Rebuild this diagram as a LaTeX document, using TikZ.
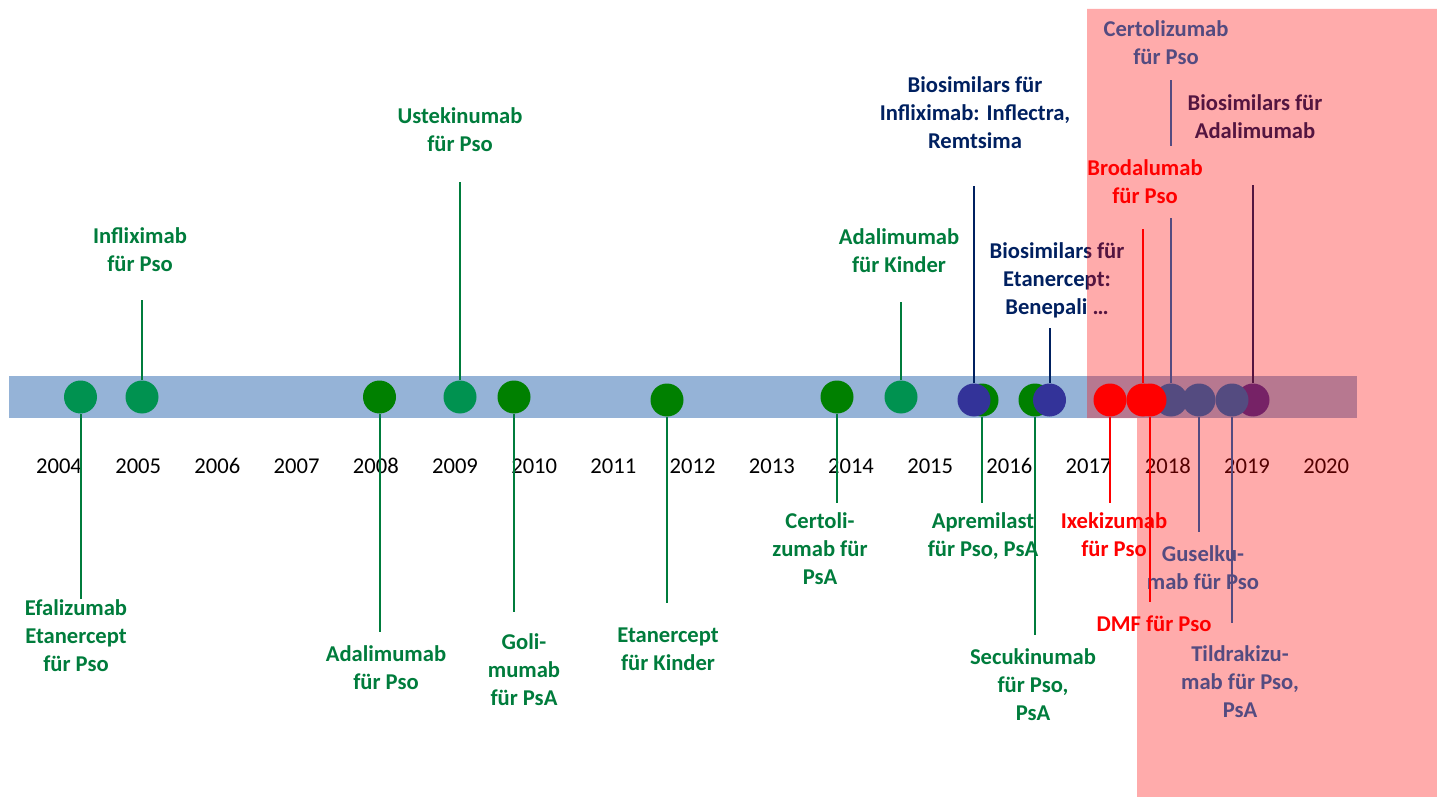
\documentclass[tikz,border=0pt]{standalone}
\usepackage{fontspec}
\setmainfont{Carlito}
\definecolor{barblue}{RGB}{149,179,215}
\definecolor{dotteal}{RGB}{0,146,80}
\definecolor{dotgreen}{RGB}{0,128,0}
\definecolor{txtgreen}{RGB}{0,124,60}
\definecolor{navy}{RGB}{0,32,96}
\definecolor{dotblue}{RGB}{51,51,153}
\definecolor{newblue}{RGB}{0,112,192}
\begin{document}
\begin{tikzpicture}[x=0.5pt,y=-0.5pt,
  evdot/.style={circle,inner sep=0pt,minimum size=16.5pt},
  lbl/.style={align=center,inner sep=0pt,font=\bfseries\fontsize{11.3}{14}\selectfont},
  yr/.style={font=\fontsize{11.3}{14}\selectfont},
  conn/.style={line width=1pt}]
\useasboundingbox (0,0) rectangle (1437,797);
\fill[barblue] (9,376) rectangle (1357,418);
% years
\node[yr] (y04) at (59,466) {2004};
\node[yr] (y05) at (138.2,466) {2005};
\node[yr] (y06) at (217.4,466) {2006};
\node[yr] (y07) at (296.6,466) {2007};
\node[yr] (y08) at (375.8,466) {2008};
\node[yr] (y09) at (455,466) {2009};
\node[yr] (y10) at (534.2,466) {2010};
\node[yr] (y11) at (613.4,466) {2011};
\node[yr] (y12) at (692.6,466) {2012};
\node[yr] (y13) at (771.8,466) {2013};
\node[yr] (y14) at (851,466) {2014};
\node[yr] (y15) at (930.2,466) {2015};
\node[yr] (y16) at (1009.4,466) {2016};
\node[yr] (y17) at (1088.6,466) {2017};
\node[yr] (y18) at (1167.8,466) {2018};
\node[yr] (y19) at (1247,466) {2019};
\node[yr] (y20) at (1326.2,466) {2020};
% dots
\node[evdot,fill=dotteal] (d04) at (80.5,397) {};
\node[evdot,fill=dotteal] (d05) at (142,397) {};
\node[evdot,fill=dotgreen] (d08) at (379.5,397) {};
\node[evdot,fill=dotteal] (d09) at (460,397) {};
\node[evdot,fill=dotgreen] (d10) at (514,397) {};
\node[evdot,fill=dotgreen] (d12) at (667,400) {};
\node[evdot,fill=dotgreen] (d14) at (837,397) {};
\node[evdot,fill=dotteal] (d15) at (901,397) {};
\node[evdot,fill=dotgreen] (dApr) at (982,400) {};
\node[evdot,fill=dotblue] (dBioInf) at (974,400) {};
\node[evdot,fill=dotgreen] (dSec) at (1035,400) {};
\node[evdot,fill=dotblue] (dBioEta) at (1049.5,400) {};
\node[evdot,fill=newblue] (dCer) at (1171,400) {};
\node[evdot,fill=newblue] (dGus) at (1199,400) {};
\node[evdot,fill=dotblue] (dBioAda) at (1253,400) {};
\node[evdot,fill=newblue] (dTil) at (1232,400) {};
\node[evdot,fill=red] (dIxe) at (1110,400) {};
\node[evdot,fill=red] (dBro) at (1143,400) {};
\node[evdot,fill=red] (dDMF) at (1150,400) {};
% labels below the bar
\node[lbl,txtgreen,anchor=north] (l04) at (76,599) {Efalizumab\\Etanercept\\für Pso};
\node[lbl,txtgreen,anchor=north] (l08) at (386,645) {Adalimumab\\für Pso};
\node[lbl,txtgreen,anchor=north] (l10) at (524,633) {Goli-\\mumab\\für PsA};
\node[lbl,txtgreen,anchor=north] (l12) at (668,627) {Etanercept\\für Kinder};
\node[lbl,txtgreen,anchor=north] (l14) at (820,512) {Certoli-\\zumab für\\PsA};
\node[lbl,txtgreen,anchor=north] (lApr) at (983,512) {Apremilast\\für Pso, PsA};
\node[lbl,txtgreen,anchor=north] (lSec) at (1033,648) {Secukinumab\\für Pso,\\PsA};
\node[lbl,red,anchor=north] (lIxe) at (1114,512) {Ixekizumab\\für Pso};
\node[lbl,red,anchor=north] (lDMF) at (1154,615) {DMF für Pso};
\node[lbl,newblue,anchor=north] (lGus) at (1203,545) {Guselku-\\mab für Pso};
\node[lbl,newblue,anchor=north] (lTil) at (1240,645) {Tildrakizu-\\mab für Pso,\\PsA};
% labels above the bar
\node[lbl,txtgreen,anchor=south] (l05) at (140,272) {Infliximab\\für Pso};
\node[lbl,txtgreen,anchor=south] (l09) at (460,152) {Ustekinumab\\für Pso};
\node[lbl,txtgreen,anchor=south] (l15) at (899,273) {Adalimumab\\für Kinder};
\node[lbl,navy,anchor=south] (lBioInf) at (975,149) {Biosimilars für\\Infliximab: Inflectra,\\Remtsima};
\node[lbl,navy,anchor=south] (lBioEta) at (1057,318) {Biosimilars für\\Etanercept:\\Benepali …};
\node[lbl,newblue,anchor=south] (lCer) at (1166,65) {Certolizumab\\für Pso};
\node[lbl,navy,anchor=south] (lBioAda) at (1255,139) {Biosimilars für\\Adalimumab};
% connectors
\draw[conn,txtgreen] (d04.south) -- (d04.south |- l04.north);
\draw[conn,txtgreen,shorten >=6.5pt] (d08.south) -- (d08.south |- l08.north);
\draw[conn,txtgreen,shorten >=10.5pt] (d10.south) -- (d10.south |- l10.north);
\draw[conn,txtgreen,shorten >=12pt] (d12.south) -- (d12.south |- l12.north);
\draw[conn,txtgreen,shorten >=4.5pt] (d14.south) -- (d14.south |- l14.north);
\draw[conn,txtgreen,shorten >=4.5pt] (dApr.south) -- (dApr.south |- lApr.north);
\draw[conn,txtgreen,shorten >=6.5pt] (dSec.south) -- (dSec.south |- lSec.north);
\draw[conn,red,shorten >=4.5pt] (dIxe.south) -- (dIxe.south |- lIxe.north);
\draw[conn,red,shorten >=6.5pt] (dDMF.south) -- (dDMF.south |- lDMF.north);
\draw[conn,newblue,shorten >=6.5pt] (dGus.south) -- (dGus.south |- lGus.north);
\draw[conn,newblue,shorten >=11pt] (dTil.south) -- (dTil.south |- lTil.north);
\draw[conn,txtgreen,shorten >=14pt] (d05.north) -- (d05.north |- l05.south);
\draw[conn,txtgreen,shorten >=15pt] (d09.north) -- (d09.north |- l09.south);
\draw[conn,txtgreen,shorten >=14.5pt] (d15.north) -- (d15.north |- l15.south);
\draw[conn,navy,shorten >=18.5pt] (dBioInf.north) -- (dBioInf.north |- lBioInf.south);
\draw[conn,navy,shorten >=5pt] (dBioEta.north) -- (dBioEta.north |- lBioEta.south);
\draw[conn,newblue,shorten >=7.5pt] (dCer.north) -- (dCer.north |- lCer.south);
\draw[conn,navy,shorten >=23pt] (dBioAda.north) -- (dBioAda.north |- lBioAda.south);
% Brodalumab sits on a white box over the line behind it
\node[lbl,red,fill=white,inner ysep=7pt,inner xsep=3pt,anchor=south] (lBro) at (1145,218) {Brodalumab\\für Pso};
\draw[conn,red,shorten >=5.5pt] (dBro.north) -- (dBro.north |- lBro.south);
% shaded period from 2017 on
\fill[red,opacity=0.33] (1087,9) -- (1437,9) -- (1437,797) -- (1137,797) -- (1137,418) -- (1087,418) -- cycle;
\end{tikzpicture}
\end{document}
